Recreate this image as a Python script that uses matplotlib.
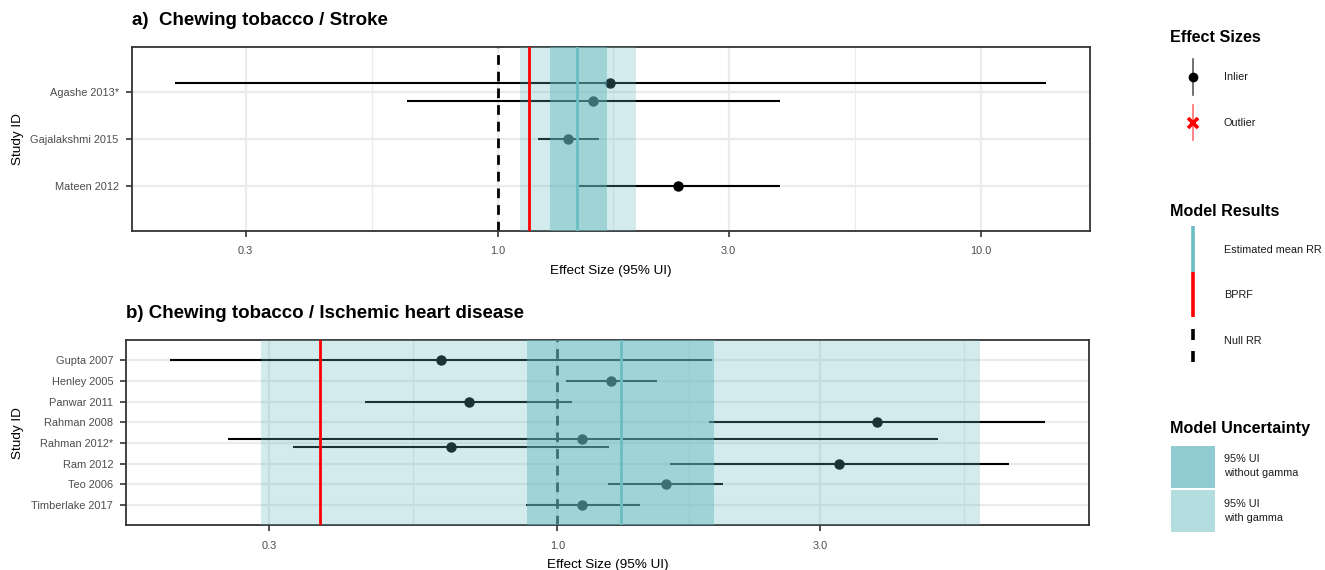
import numpy as np
import matplotlib
matplotlib.use("Agg")
import matplotlib.pyplot as plt
from matplotlib.patches import Rectangle

plt.rcParams["font.family"] = ["Liberation Sans", "DejaVu Sans"]

# ---- panel a: chewing tobacco / stroke
a_labels = ["Agashe 2013*", "Gajalakshmi 2015", "Mateen 2012"]
a_study = ["Agashe 2013*", "Agashe 2013*", "Gajalakshmi 2015", "Mateen 2012"]
a_mean = [1.707, 1.575, 1.397, 2.357]
a_lower = [0.2145, 0.647, 1.207, 1.47]
a_upper = [13.63, 3.826, 1.617, 3.826]
a_rr = 1.458
a_bprf = 1.158
a_ui = [1.28, 1.677]
a_ui_gamma = [1.11, 1.931]

# ---- panel b: chewing tobacco / ischemic heart disease
b_labels = ["Gupta 2007", "Henley 2005", "Panwar 2011", "Rahman 2008",
            "Rahman 2012*", "Ram 2012", "Teo 2006", "Timberlake 2017"]
b_study = ["Gupta 2007", "Henley 2005", "Panwar 2011", "Rahman 2008",
           "Rahman 2012*", "Rahman 2012*", "Ram 2012", "Teo 2006", "Timberlake 2017"]
b_mean = [0.6156, 1.250, 0.691, 3.804, 1.11, 0.640, 3.251, 1.573, 1.11]
b_lower = [0.1982, 1.035, 0.448, 1.889, 0.2521, 0.3309, 1.600, 1.237, 0.876]
b_upper = [1.912, 1.515, 1.063, 7.685, 4.90, 1.240, 6.605, 1.997, 1.414]
b_rr = 1.304
b_bprf = 0.371
b_ui = [0.881, 1.925]
b_ui_gamma = [0.290, 5.84]

x_ticks = [0.3, 1.0, 3.0, 10.0]
x_tick_labels = ["0.3", "1.0", "3.0", "10.0"]

BAND = "#64B8BE"
MEAN_COL = "#6BBDC4"
GRID = "#EBEBEB"
W, H = 1325, 570


def row_positions(labels, study, spread=0.19):
    n = len(labels)
    ys = []
    for i, s in enumerate(study):
        group = [j for j, t in enumerate(study) if t == s]
        base = n - labels.index(s)
        if len(group) == 1:
            ys.append(base)
        else:
            offs = np.linspace(spread, -spread, len(group))
            ys.append(base + offs[group.index(i)])
    return ys


def forest(ax, labels, study, mean, lower, upper, rr, bprf, ui, ui_gamma):
    n = len(labels)
    ys = row_positions(labels, study)

    lo = np.log10(min(lower))
    hi = np.log10(max(upper))
    pad = 0.05 * (hi - lo)
    xmin, xmax = 10 ** (lo - pad), 10 ** (hi + pad)
    ax.set_xscale("log")

    # grid (major at ticks, minor halfway between them in log space)
    for t in x_ticks:
        if xmin < t < xmax:
            ax.axvline(t, color=GRID, lw=1.6, zorder=0)
    for a, b in zip(x_ticks[:-1], x_ticks[1:]):
        m = np.sqrt(a * b)
        if xmin < m < xmax:
            ax.axvline(m, color=GRID, lw=0.8, zorder=0)
    for k in range(n):
        ax.axhline(n - k, color=GRID, lw=1.6, zorder=0)

    ax.axvline(1.0, color="black", lw=2.0, dashes=(3.5, 2.5), zorder=1)

    for y, m, l, u in zip(ys, mean, lower, upper):
        ax.plot([l, u], [y, y], color="black", lw=1.5, solid_capstyle="butt", zorder=2)
        ax.plot(m, y, "o", color="black", ms=6.5, zorder=3)

    ax.axvspan(ui_gamma[0], ui_gamma[1], color=BAND, alpha=0.28, lw=0, zorder=4)
    ax.axvspan(ui[0], ui[1], color=BAND, alpha=0.46, lw=0, zorder=4)
    ax.axvline(rr, color=MEAN_COL, lw=2.0, zorder=5)
    ax.axvline(bprf, color="red", lw=2.0, zorder=6)

    ax.set_xticks(x_ticks)
    ax.set_xticklabels(x_tick_labels)
    ax.xaxis.set_minor_locator(matplotlib.ticker.NullLocator())
    ax.set_yticks([n - k for k in range(n)])
    ax.set_yticklabels(labels)
    # limits last: set_xticks widens the view to take in every tick
    ax.set_xlim(xmin, xmax)
    ax.set_ylim(0.03, n + 0.97)
    ax.tick_params(axis="both", colors="#333333", labelcolor="#4D4D4D",
                   labelsize=7.9, length=4.5, width=1.2)
    ax.tick_params(axis="x", pad=6.5)
    ax.tick_params(axis="y", pad=4.9)
    for sp in ax.spines.values():
        sp.set_color("#333333")
        sp.set_linewidth(1.3)
    ax.set_xlabel("Effect Size (95% UI)", fontsize=9.7, labelpad=6)
    ax.set_ylabel("Study ID", fontsize=9.7)


def px_axes(fig, left, right, top, bottom):
    return fig.add_axes([left / W, 1 - bottom / H, (right - left) / W, (bottom - top) / H])


fig = plt.figure(figsize=(13.25, 5.7), dpi=100)

ax_a = px_axes(fig, 131.7, 1089.7, 46.7, 231)
forest(ax_a, a_labels, a_study, a_mean, a_lower, a_upper, a_rr, a_bprf, a_ui, a_ui_gamma)
ax_a.yaxis.set_label_coords(-(131.7 - 23.5) / 958, 0.5)
fig.text(131.7 / W, 1 - 20.7 / H, "a)  Chewing tobacco / Stroke",
         fontsize=13.5, fontweight="bold", va="center")

ax_b = px_axes(fig, 126.3, 1089, 340, 525.3)
forest(ax_b, b_labels, b_study, b_mean, b_lower, b_upper, b_rr, b_bprf, b_ui, b_ui_gamma)
ax_b.yaxis.set_label_coords(-(126.3 - 23.5) / 962.7, 0.5)
fig.text(126.3 / W, 1 - 314 / H, "b) Chewing tobacco / Ischemic heart disease",
         fontsize=13.5, fontweight="bold", va="center")

# ---- legend panel, drawn in pixel space
lax = fig.add_axes([0, 0, 1, 1], zorder=-1)
lax.set_xlim(0, W)
lax.set_ylim(H, 0)
lax.axis("off")

kx, tx, hx = 1193, 1224, 1170
lab = dict(fontsize=7.8, va="center", color="#1A1A1A")
head = dict(fontsize=11.6, fontweight="bold", va="center")

lax.text(hx, 38, "Effect Sizes", **head)
lax.plot([kx, kx], [59, 95], color="#595959", lw=1.2)
lax.plot(kx, 77, "o", color="black", ms=6)
lax.text(tx, 77, "Inlier", **lab)
lax.plot([kx, kx], [105, 140], color="#FF7070", lw=1.2)
lax.plot(kx, 123, "x", color="red", ms=7, mew=2.6)
lax.text(tx, 123, "Outlier", **lab)

lax.text(hx, 212, "Model Results", **head)
lax.plot([kx, kx], [226, 272], color=MEAN_COL, lw=2.6, solid_capstyle="butt")
lax.plot([kx, kx], [272, 317], color="red", lw=2.6, solid_capstyle="butt")
lax.plot([kx, kx], [329, 362], color="black", lw=2.6, dashes=(3.05, 3.05))
lax.text(tx, 250, "Estimated mean RR", **lab)
lax.text(tx, 295, "BPRF", **lab)
lax.text(tx, 341, "Null RR", **lab)

lax.text(hx, 429, "Model Uncertainty", **head)
lax.add_patch(Rectangle((1171, 446), 44, 42, color="#8FCBD1", lw=0))
lax.add_patch(Rectangle((1171, 490), 44, 42, color="#B4DDDF", lw=0))
lax.text(tx, 466, "95% UI\nwithout gamma", linespacing=1.4, **lab)
lax.text(tx, 511, "95% UI\nwith gamma", linespacing=1.4, **lab)

fig.savefig("out.png", dpi=100)
